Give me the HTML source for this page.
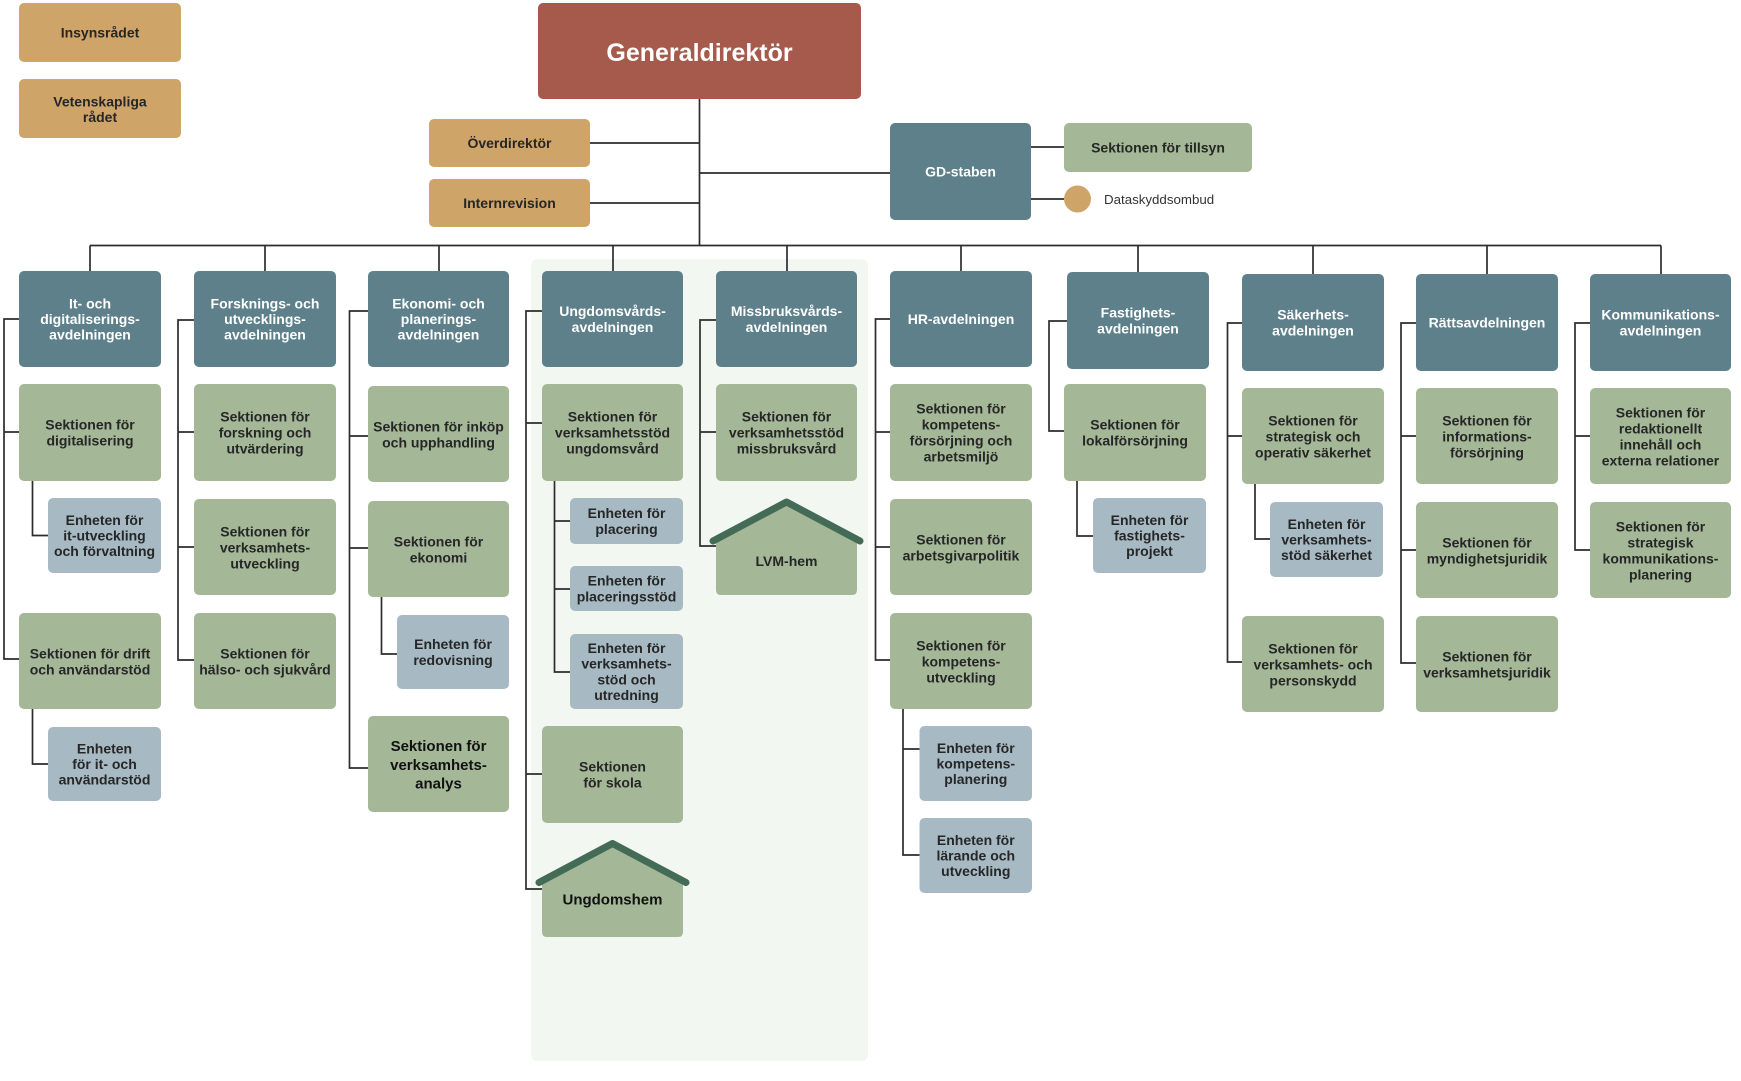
<!DOCTYPE html>
<html><head><meta charset="utf-8"><style>
html,body{margin:0;padding:0;background:#fff;}
svg{display:block;}
text{font-family:"Liberation Sans",Arial,sans-serif;font-weight:bold;font-size:14px;text-anchor:middle;}
.w{fill:#fff;}
.d{fill:#262626;}
.tan{fill:#CEA468;}
.teal{fill:#5E808A;}
.grn{fill:#A4B898;}
.blu{fill:#A7BAC4;}
</style></head><body>
<svg width="1741" height="1081" viewBox="0 0 1741 1081" xmlns="http://www.w3.org/2000/svg">
<rect x="0" y="0" width="1741" height="1081" fill="#fff"/>
<rect x="531" y="259" width="337" height="802" rx="6" fill="#F3F7F1"/>

<g fill="none" stroke="#2d2d2d" stroke-width="1.7">
<path d="M699.5,99 V245.5 M590,143 H699.5 M590,203 H699.5 M699.5,173 H890 M1031,147 H1064 M1031,199 H1064 M90,245.5 H1661"/>
<path d="M90,245.5 V271 M265,245.5 V271 M439,245.5 V271 M613,245.5 V271 M787,245.5 V271 M961,245.5 V271 M1138,245.5 V272 M1313,245.5 V274 M1487,245.5 V274 M1661,245.5 V274"/>
<path d="M19,319 H4 V659 H19 M4,432 H19 M32.5,481 V535.5 H48 M32.5,709 V764 H48"/>
<path d="M194,320 H178 V660 H194 M178,432 H194 M178,547 H194"/>
<path d="M368,311 H349.5 V768 H368 M349.5,436 H368 M349.5,548 H368 M381.5,597 V654 H397"/>
<path d="M542,311 H526 V889 H542 M526,423 H542 M526,774 H542 M554.5,481 V672 H570 M554.5,521 H570 M554.5,589 H570"/>
<path d="M716,320 H700 V546 H716 M700,432 H716"/>
<path d="M890,319 H875.5 V660 H890 M875.5,432 H890 M875.5,547 H890 M903,709 V855 H919.5 M903,749 H919.5"/>
<path d="M1067,321 H1049 V431 H1064 M1077,481 V536 H1093"/>
<path d="M1242,323 H1227.5 V662 H1242 M1227.5,436 H1242 M1255,484 V539 H1270"/>
<path d="M1416,323 H1401 V663 H1416 M1401,436 H1416 M1401,550 H1416"/>
<path d="M1590,323 H1575 V550 H1590 M1575,436 H1590"/>
</g>

<!-- Top -->
<rect class="tan" x="19" y="3" width="162" height="59" rx="5"/>
<text class="d" x="100" y="37.5">Insynsrådet</text>
<rect class="tan" x="19" y="79" width="162" height="59" rx="5"/>
<text class="d" x="100" y="106.5">Vetenskapliga</text>
<text class="d" x="100" y="122">rådet</text>

<rect fill="#A65A4B" x="538" y="3" width="323" height="96" rx="5"/>
<text class="w" x="699.5" y="61" style="font-size:25px">Generaldirektör</text>

<rect class="tan" x="429" y="119" width="161" height="48" rx="5"/>
<text class="d" x="509.5" y="148">Överdirektör</text>
<rect class="tan" x="429" y="179" width="161" height="48" rx="5"/>
<text class="d" x="509.5" y="208">Internrevision</text>

<rect class="teal" x="890" y="123" width="141" height="97" rx="5"/>
<text class="w" x="960.5" y="176.5">GD-staben</text>
<rect class="grn" x="1064" y="123" width="188" height="49" rx="5"/>
<text class="d" x="1158" y="152.5">Sektionen för tillsyn</text>
<circle cx="1077.5" cy="199" r="13.5" fill="#CEA468"/>
<text x="1104" y="204" style="font-weight:normal;font-size:13.3px;text-anchor:start;fill:#333">Dataskyddsombud</text>

<!-- Departments -->
<rect class="teal" x="19" y="271" width="142" height="96" rx="5"/>
<text class="w" x="90" y="308.3">It- och</text><text class="w" x="90" y="324">digitaliserings-</text><text class="w" x="90" y="339.7">avdelningen</text>
<rect class="teal" x="194" y="271" width="142" height="96" rx="5"/>
<text class="w" x="265" y="308.3">Forsknings- och</text><text class="w" x="265" y="324">utvecklings-</text><text class="w" x="265" y="339.7">avdelningen</text>
<rect class="teal" x="368" y="271" width="141" height="96" rx="5"/>
<text class="w" x="438.5" y="308.3">Ekonomi- och</text><text class="w" x="438.5" y="324">planerings-</text><text class="w" x="438.5" y="339.7">avdelningen</text>
<rect class="teal" x="542" y="271" width="141" height="96" rx="5"/>
<text class="w" x="612.5" y="316.2">Ungdomsvårds-</text><text class="w" x="612.5" y="331.9">avdelningen</text>
<rect class="teal" x="716" y="271" width="141" height="96" rx="5"/>
<text class="w" x="786.5" y="316.2">Missbruksvårds-</text><text class="w" x="786.5" y="331.9">avdelningen</text>
<rect class="teal" x="890" y="271" width="142" height="96" rx="5"/>
<text class="w" x="961" y="324">HR-avdelningen</text>
<rect class="teal" x="1067" y="272" width="142" height="97" rx="5"/>
<text class="w" x="1138" y="317.7">Fastighets-</text><text class="w" x="1138" y="333.4">avdelningen</text>
<rect class="teal" x="1242" y="274" width="142" height="97" rx="5"/>
<text class="w" x="1313" y="319.7">Säkerhets-</text><text class="w" x="1313" y="335.4">avdelningen</text>
<rect class="teal" x="1416" y="274" width="142" height="97" rx="5"/>
<text class="w" x="1487" y="327.5">Rättsavdelningen</text>
<rect class="teal" x="1590" y="274" width="141" height="97" rx="5"/>
<text class="w" x="1660.5" y="319.7">Kommunikations-</text><text class="w" x="1660.5" y="335.4">avdelningen</text>

<!-- Col 1 -->
<rect class="grn" x="19" y="384" width="142" height="97" rx="5"/>
<text class="d" x="90" y="429.5">Sektionen för</text><text class="d" x="90" y="445.5">digitalisering</text>
<rect class="blu" x="48" y="498" width="113" height="75" rx="5"/>
<text class="d" x="104.5" y="524.8">Enheten för</text><text class="d" x="104.5" y="540.5">it-utveckling</text><text class="d" x="104.5" y="556.2">och förvaltning</text>
<rect class="grn" x="19" y="613" width="142" height="96" rx="5"/>
<text class="d" x="90" y="658.5">Sektionen för drift</text><text class="d" x="90" y="674.5">och användarstöd</text>
<rect class="blu" x="48" y="727" width="113" height="74" rx="5"/>
<text class="d" x="104.5" y="753.3">Enheten</text><text class="d" x="104.5" y="769">för it- och</text><text class="d" x="104.5" y="784.7">användarstöd</text>

<!-- Col 2 -->
<rect class="grn" x="194" y="384" width="142" height="97" rx="5"/>
<text class="d" x="265" y="421.5">Sektionen för</text><text class="d" x="265" y="437.5">forskning och</text><text class="d" x="265" y="453.5">utvärdering</text>
<rect class="grn" x="194" y="499" width="142" height="96" rx="5"/>
<text class="d" x="265" y="536.5">Sektionen för</text><text class="d" x="265" y="552.5">verksamhets-</text><text class="d" x="265" y="568.5">utveckling</text>
<rect class="grn" x="194" y="613" width="142" height="96" rx="5"/>
<text class="d" x="265" y="658.5">Sektionen för</text><text class="d" x="265" y="674.5">hälso- och sjukvård</text>

<!-- Col 3 -->
<rect class="grn" x="368" y="386" width="141" height="96" rx="5"/>
<text class="d" x="438.5" y="431.5">Sektionen för inköp</text><text class="d" x="438.5" y="447.5">och upphandling</text>
<rect class="grn" x="368" y="501" width="141" height="96" rx="5"/>
<text class="d" x="438.5" y="546.5">Sektionen för</text><text class="d" x="438.5" y="562.5">ekonomi</text>
<rect class="blu" x="397" y="615" width="112" height="74" rx="5"/>
<text class="d" x="453" y="649.2">Enheten för</text><text class="d" x="453" y="664.9">redovisning</text>
<rect class="grn" x="368" y="716" width="141" height="96" rx="5"/>
<text x="438.5" y="751.1" style="font-size:15px;fill:#111">Sektionen för</text><text x="438.5" y="769.8" style="font-size:15px;fill:#111">verksamhets-</text><text x="438.5" y="788.5" style="font-size:15px;fill:#111">analys</text>

<!-- Col 4 -->
<rect class="grn" x="542" y="384" width="141" height="97" rx="5"/>
<text class="d" x="612.5" y="421.5">Sektionen för</text><text class="d" x="612.5" y="437.5">verksamhetsstöd</text><text class="d" x="612.5" y="453.5">ungdomsvård</text>
<rect class="blu" x="570" y="498" width="113" height="46" rx="5"/>
<text class="d" x="626.5" y="518.2">Enheten för</text><text class="d" x="626.5" y="533.9">placering</text>
<rect class="blu" x="570" y="566" width="113" height="45" rx="5"/>
<text class="d" x="626.5" y="585.7">Enheten för</text><text class="d" x="626.5" y="601.4">placeringsstöd</text>
<rect class="blu" x="570" y="634" width="113" height="75" rx="5"/>
<text class="d" x="626.5" y="653">Enheten för</text><text class="d" x="626.5" y="668.7">verksamhets-</text><text class="d" x="626.5" y="684.4">stöd och</text><text class="d" x="626.5" y="700.1">utredning</text>
<rect class="grn" x="542" y="726" width="141" height="97" rx="5"/>
<text class="d" x="612.5" y="771.5">Sektionen</text><text class="d" x="612.5" y="787.5">för skola</text>
<path class="grn" d="M542,883 L612.5,845 L683,883 L683,932 Q683,937 678,937 L547,937 Q542,937 542,932 Z"/>
<polyline points="539,882.5 612.5,843.5 686,882.5" fill="none" stroke="#436B55" stroke-width="7" stroke-linecap="round" stroke-linejoin="round"/>
<text x="612.5" y="904.5" style="font-size:15px;fill:#111">Ungdomshem</text>

<!-- Col 5 -->
<rect class="grn" x="716" y="384" width="141" height="97" rx="5"/>
<text class="d" x="786.5" y="421.5">Sektionen för</text><text class="d" x="786.5" y="437.5">verksamhetsstöd</text><text class="d" x="786.5" y="453.5">missbruksvård</text>
<path class="grn" d="M716,541 L786.5,503 L857,541 L857,590 Q857,595 852,595 L721,595 Q716,595 716,590 Z"/>
<polyline points="713,541 786.5,502 860,541" fill="none" stroke="#436B55" stroke-width="7" stroke-linecap="round" stroke-linejoin="round"/>
<text class="d" x="786.5" y="566">LVM-hem</text>

<!-- Col 6 -->
<rect class="grn" x="890" y="384" width="142" height="97" rx="5"/>
<text class="d" x="961" y="413.5">Sektionen för</text><text class="d" x="961" y="429.5">kompetens-</text><text class="d" x="961" y="445.5">försörjning och</text><text class="d" x="961" y="461.5">arbetsmiljö</text>
<rect class="grn" x="890" y="499" width="142" height="96" rx="5"/>
<text class="d" x="961" y="544.5">Sektionen för</text><text class="d" x="961" y="560.5">arbetsgivarpolitik</text>
<rect class="grn" x="890" y="613" width="142" height="96" rx="5"/>
<text class="d" x="961" y="650.5">Sektionen för</text><text class="d" x="961" y="666.5">kompetens-</text><text class="d" x="961" y="682.5">utveckling</text>
<rect class="blu" x="919.5" y="726" width="112.5" height="75" rx="5"/>
<text class="d" x="975.8" y="752.8">Enheten för</text><text class="d" x="975.8" y="768.5">kompetens-</text><text class="d" x="975.8" y="784.2">planering</text>
<rect class="blu" x="919.5" y="818" width="112.5" height="75" rx="5"/>
<text class="d" x="975.8" y="844.8">Enheten för</text><text class="d" x="975.8" y="860.5">lärande och</text><text class="d" x="975.8" y="876.2">utveckling</text>

<!-- Col 7 -->
<rect class="grn" x="1064" y="384" width="142" height="97" rx="5"/>
<text class="d" x="1135" y="429.5">Sektionen för</text><text class="d" x="1135" y="445.5">lokalförsörjning</text>
<rect class="blu" x="1093" y="498" width="113" height="75" rx="5"/>
<text class="d" x="1149.5" y="524.8">Enheten för</text><text class="d" x="1149.5" y="540.5">fastighets-</text><text class="d" x="1149.5" y="556.2">projekt</text>

<!-- Col 8 -->
<rect class="grn" x="1242" y="388" width="142" height="96" rx="5"/>
<text class="d" x="1313" y="425.5">Sektionen för</text><text class="d" x="1313" y="441.5">strategisk och</text><text class="d" x="1313" y="457.5">operativ säkerhet</text>
<rect class="blu" x="1270" y="502" width="113" height="75" rx="5"/>
<text class="d" x="1326.5" y="528.8">Enheten för</text><text class="d" x="1326.5" y="544.5">verksamhets-</text><text class="d" x="1326.5" y="560.2">stöd säkerhet</text>
<rect class="grn" x="1242" y="616" width="142" height="96" rx="5"/>
<text class="d" x="1313" y="653.5">Sektionen för</text><text class="d" x="1313" y="669.5">verksamhets- och</text><text class="d" x="1313" y="685.5">personskydd</text>

<!-- Col 9 -->
<rect class="grn" x="1416" y="388" width="142" height="96" rx="5"/>
<text class="d" x="1487" y="425.5">Sektionen för</text><text class="d" x="1487" y="441.5">informations-</text><text class="d" x="1487" y="457.5">försörjning</text>
<rect class="grn" x="1416" y="502" width="142" height="96" rx="5"/>
<text class="d" x="1487" y="547.5">Sektionen för</text><text class="d" x="1487" y="563.5">myndighetsjuridik</text>
<rect class="grn" x="1416" y="616" width="142" height="96" rx="5"/>
<text class="d" x="1487" y="661.5">Sektionen för</text><text class="d" x="1487" y="677.5">verksamhetsjuridik</text>

<!-- Col 10 -->
<rect class="grn" x="1590" y="388" width="141" height="96" rx="5"/>
<text class="d" x="1660.5" y="417.5">Sektionen för</text><text class="d" x="1660.5" y="433.5">redaktionellt</text><text class="d" x="1660.5" y="449.5">innehåll och</text><text class="d" x="1660.5" y="465.5">externa relationer</text>
<rect class="grn" x="1590" y="502" width="141" height="96" rx="5"/>
<text class="d" x="1660.5" y="531.5">Sektionen för</text><text class="d" x="1660.5" y="547.5">strategisk</text><text class="d" x="1660.5" y="563.5">kommunikations-</text><text class="d" x="1660.5" y="579.5">planering</text>
</svg>
</body></html>
